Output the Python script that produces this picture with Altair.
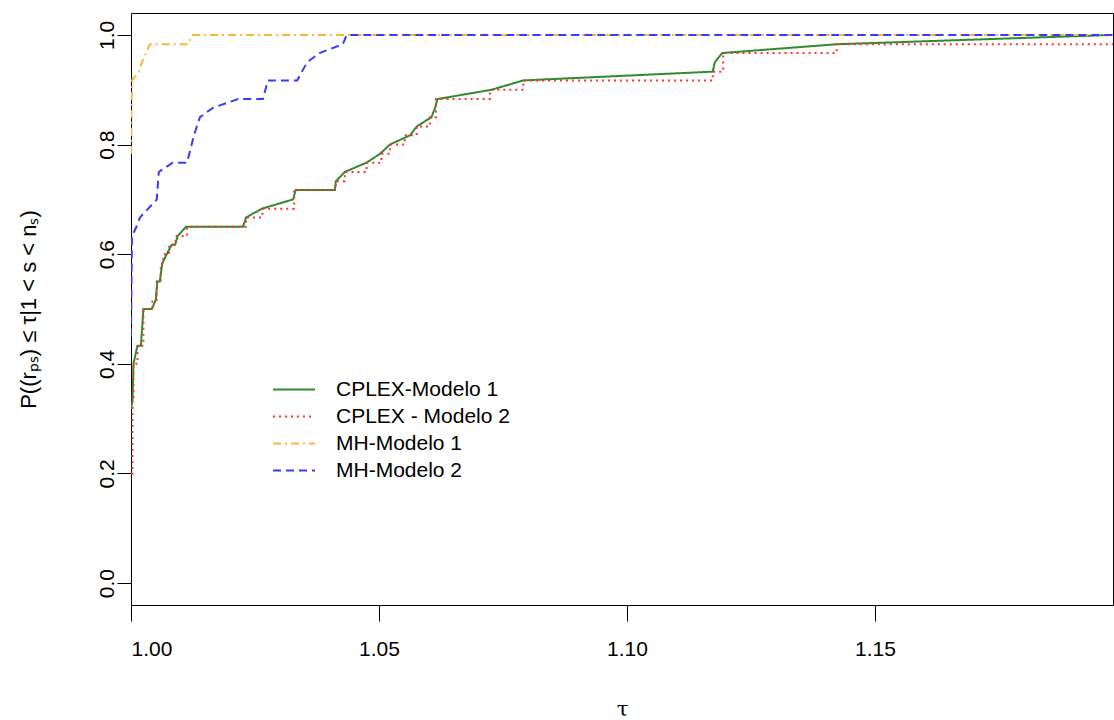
import altair as alt
import pandas as pd

series_names = ["CPLEX-Modelo 1", "CPLEX - Modelo 2", "MH-Modelo 1", "MH-Modelo 2"]
series_colors = ["#2E8B2E", "#FF3030", "#FDB53C", "#3B3BF7"]
series_dashes = [[1, 0], [2, 4], [8, 4, 2, 4], [8, 5]]

# CPLEX-Modelo 1 (solid, linear)
tau_c1 = [1.0, 1.0003, 1.0005, 1.0013, 1.002, 1.0025, 1.0042, 1.005, 1.0053, 1.0058,
          1.0063, 1.0072, 1.0082, 1.0089, 1.0094, 1.0111, 1.0226, 1.0232, 1.0264, 1.0327,
          1.0332, 1.0411, 1.0413, 1.0431, 1.0475, 1.0502, 1.0522, 1.0563, 1.0576, 1.0606,
          1.0613, 1.0618, 1.0727, 1.0791, 1.1173, 1.1177, 1.1192, 1.1423, 1.198]
rho_c1 = [0.317, 0.333, 0.400, 0.433, 0.433, 0.500, 0.500, 0.517, 0.550, 0.550,
          0.583, 0.600, 0.617, 0.617, 0.633, 0.650, 0.650, 0.667, 0.683, 0.700,
          0.717, 0.717, 0.733, 0.750, 0.767, 0.783, 0.800, 0.817, 0.833, 0.850,
          0.867, 0.883, 0.900, 0.917, 0.933, 0.950, 0.967, 0.983, 1.000]

# CPLEX - Modelo 2 (dotted, step)
tau_c2 = [1.0, 1.0003, 1.0005, 1.0013, 1.0025, 1.0043, 1.0052, 1.006, 1.0065, 1.0077,
          1.009, 1.0113, 1.0232, 1.0265, 1.0329, 1.0413, 1.0431, 1.0475, 1.0505, 1.0522,
          1.0552, 1.0576, 1.0603, 1.0615, 1.0724, 1.0791, 1.1173, 1.1194, 1.1423, 1.198]
rho_c2 = [0.200, 0.333, 0.400, 0.433, 0.500, 0.517, 0.550, 0.583, 0.600, 0.617,
          0.633, 0.650, 0.667, 0.683, 0.717, 0.733, 0.750, 0.767, 0.783, 0.800,
          0.817, 0.833, 0.850, 0.883, 0.900, 0.917, 0.933, 0.967, 0.983, 0.983]

# MH-Modelo 1 (dot-dash)
tau_m1 = [1.0, 1.0002, 1.0016, 1.0022, 1.0038, 1.0115, 1.0125, 1.198]
rho_m1 = [0.783, 0.917, 0.933, 0.950, 0.983, 0.983, 1.000, 1.000]

# MH-Modelo 2 (dashed)
tau_m2 = [1.0, 1.0002, 1.0011, 1.0018, 1.0052, 1.0056, 1.0084, 1.0113, 1.0127, 1.0139,
          1.0165, 1.0216, 1.0266, 1.0276, 1.0335, 1.0355, 1.038, 1.0427, 1.0435, 1.198]
rho_m2 = [0.450, 0.633, 0.650, 0.667, 0.700, 0.750, 0.767, 0.767, 0.817, 0.850,
          0.867, 0.883, 0.883, 0.917, 0.917, 0.950, 0.967, 0.983, 1.000, 1.000]

x_ticks = [1.00, 1.05, 1.10, 1.15]
y_ticks = [0.0, 0.2, 0.4, 0.6, 0.8, 1.0]

FONT = "Liberation Sans"


def frame(name, taus, rhos):
    return pd.DataFrame({"series": name, "tau": taus, "rho": rhos,
                         "idx": list(range(len(taus)))})


x_enc = alt.X("tau:Q", scale=alt.Scale(domain=[1.0, 1.198], nice=False, zero=False),
              axis=alt.Axis(values=x_ticks, format=".2f", title="τ", grid=False,
                            domain=False, tickSize=16, tickColor="black",
                            labelFont=FONT, labelFontSize=21, labelColor="black",
                            labelPadding=17, titleFont="DejaVu Serif", titleFontSize=21,
                            titleFontWeight="normal", titleColor="black",
                            titleY=104, titleBaseline="middle"))
y_enc = alt.Y("rho:Q", scale=alt.Scale(domain=[-0.04, 1.04], nice=False, zero=False),
              axis=alt.Axis(values=y_ticks, format=".1f",
                            title="P((rₚₛ) ≤ τ|1 < s < nₛ)", grid=False, domain=False,
                            tickSize=14, tickColor="black", labelFont=FONT,
                            labelFontSize=21, labelColor="black", labelAngle=270,
                            labelAlign="center", labelBaseline="alphabetic",
                            labelPadding=4, titleFont=FONT, titleFontSize=22,
                            titleFontWeight="normal", titleColor="black",
                            titleAngle=270, titleX=-103, titleBaseline="middle"))

legend = alt.Legend(title=None, orient="none", legendX=141, legendY=363,
                    symbolType="stroke", symbolSize=1764, symbolStrokeWidth=2,
                    labelFont=FONT, labelFontSize=21, labelColor="black",
                    labelOffset=20, rowPadding=0, clipHeight=27, padding=0,
                    labelLimit=400)
color_enc = alt.Color("series:N", scale=alt.Scale(domain=series_names, range=series_colors),
                      legend=legend)
dash_enc = alt.StrokeDash("series:N",
                          scale=alt.Scale(domain=series_names, range=series_dashes),
                          legend=legend)


def layer(df, interp):
    return alt.Chart(df).mark_line(strokeWidth=2, interpolate=interp, clip=True).encode(
        x=x_enc, y=y_enc, color=color_enc, strokeDash=dash_enc,
        order=alt.Order("idx:Q"))


chart = alt.layer(
    layer(frame(series_names[0], tau_c1, rho_c1), "linear"),
    layer(frame(series_names[1], tau_c2, rho_c2), "step-after"),
    layer(frame(series_names[2], tau_m1, rho_m1), "linear"),
    layer(frame(series_names[3], tau_m2, rho_m2), "linear"),
).properties(
    width=982, height=592,
    autosize=alt.AutoSizeParams(type="none"),
    padding={"left": 131, "top": 13, "right": 1, "bottom": 115},
    background="white",
).configure_view(stroke="black", strokeWidth=1)

chart.save("out.html", embed_options={"renderer": "svg", "actions": False})
